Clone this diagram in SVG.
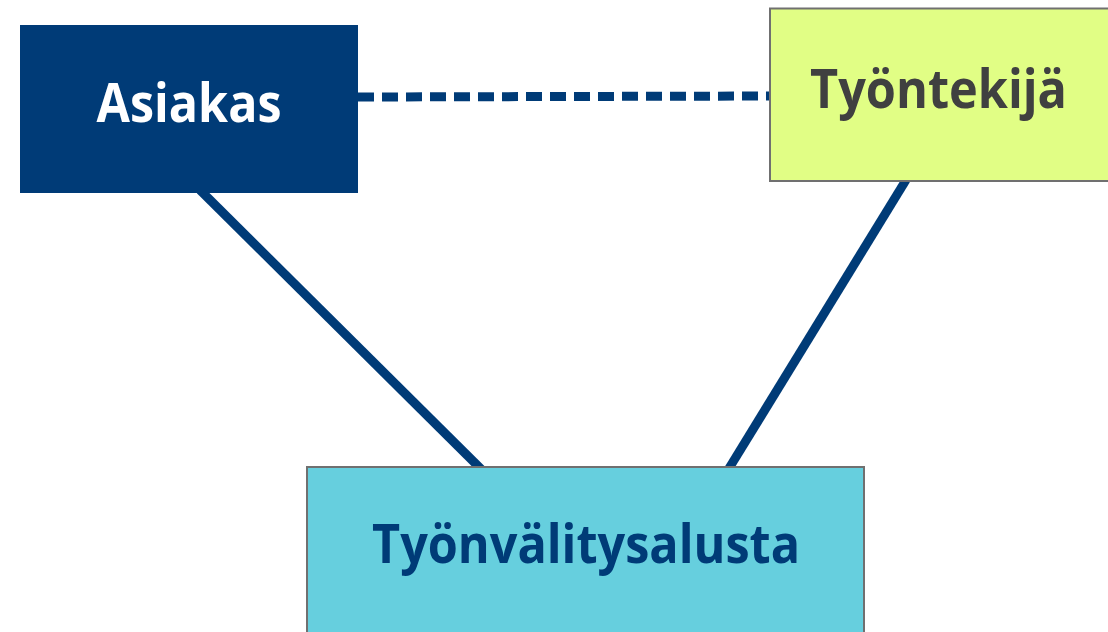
<svg xmlns="http://www.w3.org/2000/svg" width="1108" height="632" viewBox="0 0 1108 632">
<style>
.lbl{font-family:"Open Sans","Noto Sans","DejaVu Sans",sans-serif;font-weight:bold;font-size:53px;text-anchor:middle}
.edge{stroke:#003B77;stroke-width:9;fill:none}
</style>
<rect width="1108" height="632" fill="#ffffff"/>
<g id="connectors">
<line class="edge" x1="200" y1="190" x2="482" y2="470"/>
<line class="edge" x1="906" y1="180" x2="728" y2="470"/>
<line class="edge" x1="358" y1="97" x2="770" y2="96" stroke-width="5" stroke-dasharray="16,8"/>
</g>
<g id="asiakas">
<rect x="20" y="25" width="338" height="168" fill="#003B77"/>
<text class="lbl" x="189" y="122" fill="#ffffff" textLength="185" lengthAdjust="spacingAndGlyphs">Asiakas</text>
</g>
<g id="tyontekija">
<rect x="770" y="8.5" width="340" height="172.5" fill="#E1FE85" stroke="#707070" stroke-width="2"/>
<text class="lbl" x="938.5" y="108" fill="#404040" textLength="257" lengthAdjust="spacingAndGlyphs">Työntekijä</text>
</g>
<g id="alusta">
<rect x="307" y="467" width="557" height="170" fill="#66CFDE" stroke="#707070" stroke-width="2"/>
<text class="lbl" x="586" y="563" fill="#003B77" textLength="428" lengthAdjust="spacingAndGlyphs">Työnvälitysalusta</text>
</g>
</svg>
